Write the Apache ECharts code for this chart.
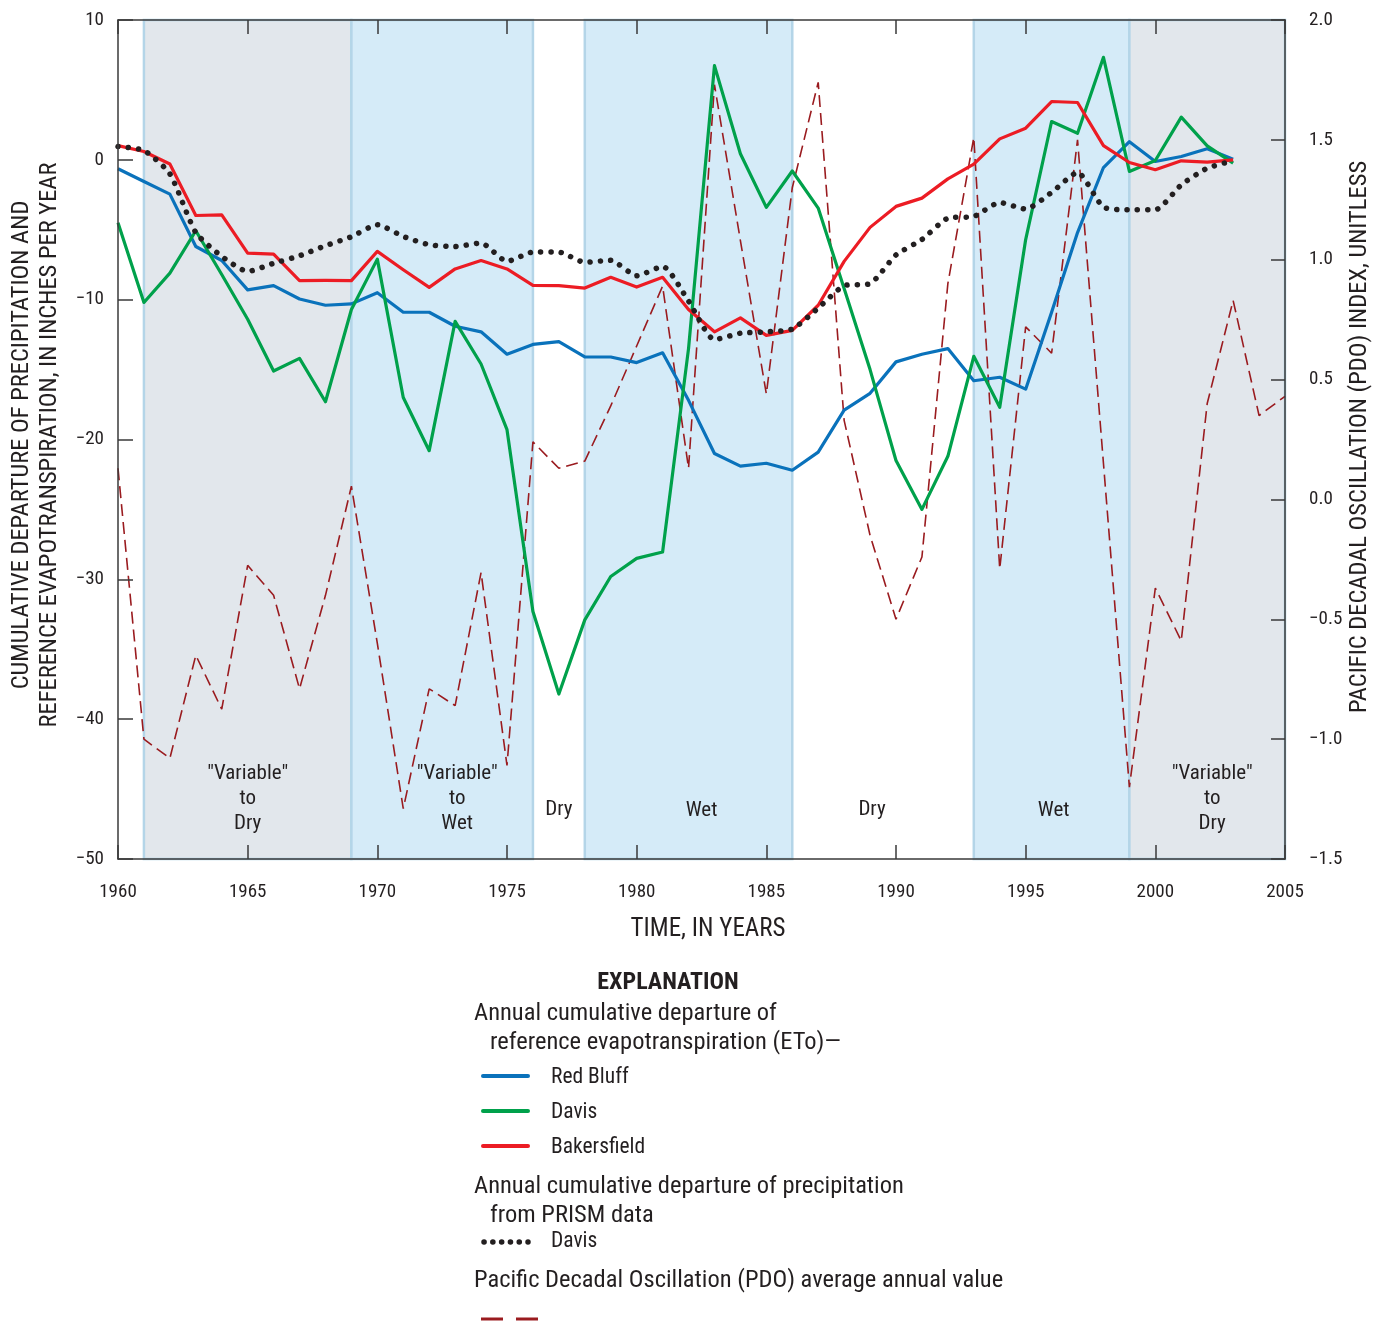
<!DOCTYPE html>
<html>
<head>
<meta charset="utf-8">
<script src="https://cdn.jsdelivr.net/npm/echarts@6/dist/echarts.min.js"></script>
<style>
html,body{margin:0;padding:0;background:#fff;}
#chart{width:1374px;height:1322px;}
</style>
</head>
<body>
<div id="chart"></div>
<script>
// ---- Data ----
const etoYears = [1960,1961,1962,1963,1964,1965,1966,1967,1968,1969,1970,1971,1972,1973,1974,1975,1976,1977,1978,1979,1980,1981,1982,1983,1984,1985,1986,1987,1988,1989,1990,1991,1992,1993,1994,1995,1996,1997,1998,1999,2000,2001,2002,2003];
const redBluff = [-0.64,-1.55,-2.45,-6.2,-7.2,-9.3,-9.0,-9.95,-10.4,-10.3,-9.5,-10.9,-10.9,-11.9,-12.3,-13.9,-13.2,-13.0,-14.1,-14.1,-14.5,-13.8,-17.2,-21.0,-21.9,-21.7,-22.2,-20.9,-17.9,-16.7,-14.45,-13.9,-13.5,-15.8,-15.55,-16.4,-10.9,-5.2,-0.55,1.3,-0.12,0.24,0.79,0.05];
const davisEto = [-4.5,-10.2,-8.1,-5.07,-8.2,-11.4,-15.1,-14.2,-17.3,-10.7,-7.1,-17.0,-20.8,-11.55,-14.6,-19.3,-32.3,-38.2,-32.9,-29.8,-28.5,-28.05,-13.5,6.74,0.43,-3.4,-0.8,-3.45,-9.2,-15.0,-21.5,-25.0,-21.2,-14.05,-17.7,-5.7,2.74,1.9,7.33,-0.83,-0.05,3.05,1.0,-0.24];
const bakersfield = [1.02,0.6,-0.3,-3.98,-3.93,-6.67,-6.74,-8.64,-8.62,-8.64,-6.55,-7.86,-9.12,-7.8,-7.2,-7.8,-8.98,-9.0,-9.17,-8.4,-9.1,-8.4,-10.7,-12.3,-11.3,-12.55,-12.2,-10.4,-7.26,-4.83,-3.33,-2.74,-1.36,-0.31,1.5,2.26,4.17,4.1,1.02,-0.19,-0.71,-0.07,-0.17,0.0];
const precipDavis = [0.95,0.67,-1.0,-5.2,-6.9,-7.98,-7.4,-6.86,-6.14,-5.5,-4.64,-5.48,-6.07,-6.2,-5.95,-7.26,-6.6,-6.6,-7.33,-7.19,-8.29,-7.62,-10.1,-12.86,-12.4,-12.3,-12.1,-10.6,-9.0,-8.86,-6.8,-5.7,-4.17,-4.05,-3.05,-3.52,-2.33,-0.9,-3.38,-3.57,-3.57,-1.79,-0.6,-0.07];
const pdoYears = [1960,1961,1962,1963,1964,1965,1966,1967,1968,1969,1970,1971,1972,1973,1974,1975,1976,1977,1978,1979,1980,1981,1982,1983,1984,1985,1986,1987,1988,1989,1990,1991,1992,1993,1994,1995,1996,1997,1998,1999,2000,2001,2002,2003,2004,2005];
const pdo = [0.13,-1.0,-1.08,-0.65,-0.875,-0.275,-0.40,-0.79,-0.4,0.055,-0.6,-1.29,-0.79,-0.86,-0.305,-1.11,0.24,0.13,0.16,0.39,0.64,0.89,0.13,1.73,1.08,0.44,1.3,1.74,0.33,-0.15,-0.5,-0.24,0.9,1.51,-0.29,0.72,0.61,1.5,0.15,-1.2,-0.37,-0.59,0.4,0.83,0.35,0.43];

// climate periods
const periodStart = [1961,1969,1976,1978,1986,1993,1999];
const periodEnd   = [1969,1976,1978,1986,1993,1999,2005];
const periodLabel = ['"Variable"\nto\nDry','"Variable"\nto\nWet','Dry','Wet','Dry','Wet','"Variable"\nto\nDry'];
const periodKind  = ['gray','blue','none','blue','none','blue','gray'];
const labelShift  = [0,15,0,13,-11,2,5];

const xTicks = [1960,2005,5];
const leftAxis = [-50,10,10];
const rightAxis = [-1.5,2.0,0.5];

// ---- Styles ----
const FONT = "'Roboto Condensed','Liberation Sans Narrow','Arial Narrow',Roboto,sans-serif";
const TXT = '#231f20';
const AX = '#3a3a3a';
const C_BLUE = '#0a72bb', C_GREEN = '#00a14b', C_RED = '#ec1c24', C_PDO = '#9a1b1f';
const fills = {gray:'#e2e7ec', blue:'#d5ebf8', none:'rgba(255,255,255,0)'};

const pair = (xs, ys) => xs.map((x,i)=>[x, ys[i]]);
const minus = s => String(s).replace('-', '\u2212');

const areas = periodStart.map((s,i)=>{
  const single = periodLabel[i].indexOf('\n') < 0;
  return [{
    name: periodLabel[i], xAxis: s,
    itemStyle: {color: fills[periodKind[i]], borderColor: periodKind[i]==='none' ? 'rgba(0,0,0,0)' : '#b4d5e8', borderWidth: periodKind[i]==='none'?0:2.5},
    label: {show:true, position:'insideBottom', distance: single ? 37 : 24, offset:[labelShift[i],0],
      color: TXT, fontFamily: FONT, fontSize: 21, lineHeight: 25, align:'center'}
  }, {xAxis: periodEnd[i]}];
});

const axisCommon = {
  axisLine:{show:true, onZero:false, lineStyle:{color:AX, width:1.5}},
  splitLine:{show:false}, z:10
};

const chart = echarts.init(document.getElementById('chart'), null, {renderer:'canvas'});

const legendX = 474;
const option = {
  animation: false,
  backgroundColor: '#fff',
  grid: {left:118, right:89, top:20, bottom:463, containLabel:false},
  xAxis: [Object.assign({
    type:'value', position:'bottom', min:xTicks[0], max:xTicks[1], interval:xTicks[2],
    axisTick:{show:true, inside:true, length:14, lineStyle:{color:AX, width:1.5}},
    axisLabel:{color:TXT, fontFamily:FONT, fontSize:19, margin:24, formatter: v=>String(v)}
  }, axisCommon), Object.assign({
    type:'value', position:'top', min:xTicks[0], max:xTicks[1], interval:xTicks[2],
    axisTick:{show:true, inside:true, length:14, lineStyle:{color:AX, width:1.5}},
    axisLabel:{show:false}
  }, axisCommon)],
  yAxis: [Object.assign({
    type:'value', position:'left', min:leftAxis[0], max:leftAxis[1], interval:leftAxis[2],
    axisTick:{show:true, inside:true, length:15, lineStyle:{color:AX, width:1.5}},
    axisLabel:{color:TXT, fontFamily:FONT, fontSize:19, margin:14, formatter: v=>minus(v)}
  }, axisCommon), Object.assign({
    type:'value', position:'right', min:rightAxis[0], max:rightAxis[1], interval:rightAxis[2],
    axisTick:{show:true, inside:true, length:14, lineStyle:{color:AX, width:1.5}},
    axisLabel:{color:TXT, fontFamily:FONT, fontSize:19, margin:24, formatter: v=>minus(v.toFixed(1))}
  }, axisCommon)],
  series: [
    {type:'line', name:'bands', data:[], z:1, silent:true,
     markArea:{silent:true, data: areas}},
    {type:'line', name:'PDO', yAxisIndex:1, data: pair(pdoYears, pdo), z:3, symbol:'none',
     lineStyle:{color:C_PDO, width:1.6, type:[12,6]}},
    {type:'line', name:'Red Bluff', data: pair(etoYears, redBluff), z:4, symbol:'none',
     lineStyle:{color:C_BLUE, width:3.2, join:'round'}},
    {type:'line', name:'Davis', data: pair(etoYears, davisEto), z:4, symbol:'none',
     lineStyle:{color:C_GREEN, width:3.2, join:'round'}},
    {type:'line', name:'Bakersfield', data: pair(etoYears, bakersfield), z:4, symbol:'none',
     lineStyle:{color:C_RED, width:3.2, join:'round'}},
    {type:'line', name:'Precip Davis', data: pair(etoYears, precipDavis), z:5, symbol:'none', smooth:0.2,
     lineStyle:{color:'#231f20', width:5.5, type:[0.1,10.2], cap:'round'}}
  ],
  graphic: [
    {type:'text', x:708, y:930, style:{text:'TIME, IN YEARS', fill:TXT, font:'25px '+FONT, textAlign:'center', textVerticalAlign:'middle'}},
    {type:'text', x:22, y:445, rotation:Math.PI/2, style:{text:'CUMULATIVE DEPARTURE OF PRECIPITATION AND', fill:TXT, font:'24.5px '+FONT, textAlign:'center', textVerticalAlign:'middle'}},
    {type:'text', x:50, y:445, rotation:Math.PI/2, style:{text:'REFERENCE EVAPOTRANSPIRATION, IN INCHES PER YEAR', fill:TXT, font:'24.5px '+FONT, textAlign:'center', textVerticalAlign:'middle'}},
    {type:'text', x:1360, y:437, rotation:Math.PI/2, style:{text:'PACIFIC DECADAL OSCILLATION (PDO) INDEX, UNITLESS', fill:TXT, font:'24.5px '+FONT, textAlign:'center', textVerticalAlign:'middle'}},
    {type:'text', x:668, y:983, style:{text:'EXPLANATION', fill:TXT, font:'bold 24px '+FONT, textAlign:'center', textVerticalAlign:'middle'}},
    {type:'text', x:legendX, y:1014, style:{text:'Annual cumulative departure of', fill:TXT, font:'24.5px '+FONT, textVerticalAlign:'middle'}},
    {type:'text', x:legendX+16, y:1043, style:{text:'reference evapotranspiration (ETo)\u2014', fill:TXT, font:'24.5px '+FONT, textVerticalAlign:'middle'}},
    {type:'line', shape:{x1:483,y1:1076,x2:528,y2:1076}, style:{stroke:C_BLUE, lineWidth:4, lineCap:'round'}},
    {type:'text', x:551, y:1078, style:{text:'Red Bluff', fill:TXT, font:'21.5px '+FONT, textVerticalAlign:'middle'}},
    {type:'line', shape:{x1:483,y1:1111,x2:528,y2:1111}, style:{stroke:C_GREEN, lineWidth:4, lineCap:'round'}},
    {type:'text', x:551, y:1113, style:{text:'Davis', fill:TXT, font:'21.5px '+FONT, textVerticalAlign:'middle'}},
    {type:'line', shape:{x1:483,y1:1146,x2:528,y2:1146}, style:{stroke:C_RED, lineWidth:4, lineCap:'round'}},
    {type:'text', x:551, y:1148, style:{text:'Bakersfield', fill:TXT, font:'21.5px '+FONT, textVerticalAlign:'middle'}},
    {type:'text', x:legendX, y:1187, style:{text:'Annual cumulative departure of precipitation', fill:TXT, font:'24.5px '+FONT, textVerticalAlign:'middle'}},
    {type:'text', x:legendX+16, y:1216, style:{text:'from PRISM data', fill:TXT, font:'24.5px '+FONT, textVerticalAlign:'middle'}},
    {type:'line', shape:{x1:484,y1:1242,x2:528,y2:1242}, style:{stroke:'#231f20', lineWidth:5.5, lineCap:'round', lineDash:[0.1,8.7]}},
    {type:'text', x:551, y:1242, style:{text:'Davis', fill:TXT, font:'21.5px '+FONT, textVerticalAlign:'middle'}},
    {type:'text', x:legendX, y:1281, style:{text:'Pacific Decadal Oscillation (PDO) average annual value', fill:TXT, font:'24.5px '+FONT, textVerticalAlign:'middle'}},
    {type:'line', shape:{x1:481,y1:1319,x2:503,y2:1319}, style:{stroke:C_PDO, lineWidth:3}},
    {type:'line', shape:{x1:516,y1:1319,x2:538,y2:1319}, style:{stroke:C_PDO, lineWidth:3}}
  ]
};
chart.setOption(option);
</script>
</body>
</html>
